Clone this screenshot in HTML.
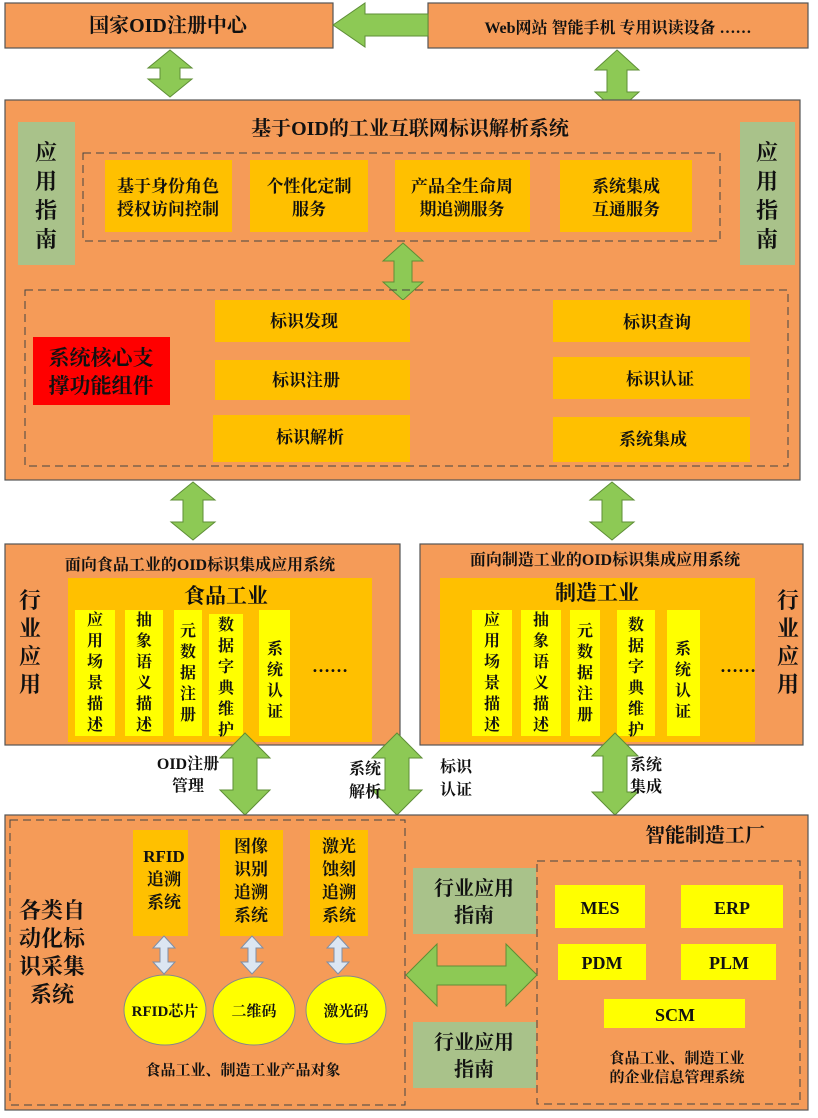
<!DOCTYPE html>
<html><head><meta charset="utf-8"><style>
html,body{margin:0;padding:0;background:#fff;}
svg text{font-family:"Liberation Serif","Noto Serif CJK SC",serif;font-weight:bold;fill:#111;}
</style></head><body>
<svg width="818" height="1113" viewBox="0 0 818 1113" xmlns="http://www.w3.org/2000/svg">
<defs><style>.o{fill:#F59B58;stroke:#555;stroke-width:1.2}.g{fill:#8DC955;stroke:#5E8E36;stroke-width:1}.y{fill:#FFC000}.ye{fill:#FFFF00}.pg{fill:#A9C28A}.d{fill:none;stroke:#444;stroke-width:1;stroke-dasharray:8 5}</style></defs>
<!-- top -->
<rect class="o" x="5" y="3" width="328" height="45"/>
<text x="168" y="32" font-size="20" text-anchor="middle">国家OID注册中心</text>
<rect class="o" x="428" y="3" width="380" height="45"/>
<text x="618" y="33" font-size="16" text-anchor="middle">Web网站  智能手机  专用识读设备  ……</text>
<polygon class="g" points="333,25 365,3 365,14 428,14 428,36 365,36 365,47"/>
<polygon class="g" points="170,50 192,68 180,68 180,79 192,79 170,97 148,79 160,79 160,68 148,68"/>
<polygon class="g" points="617,50 639,70 627,70 627,92 639,92 617,112 595,92 607,92 607,70 595,70"/>
<!-- big panel -->
<rect class="o" x="5" y="100" width="795" height="380"/>
<text x="410" y="135" font-size="20" text-anchor="middle">基于OID的工业互联网标识解析系统</text>
<rect class="pg" x="18" y="122" width="57" height="143"/>
<text x="46" y="160" font-size="22" text-anchor="middle">应</text><text x="46" y="189" font-size="22" text-anchor="middle">用</text><text x="46" y="218" font-size="22" text-anchor="middle">指</text><text x="46" y="247" font-size="22" text-anchor="middle">南</text>
<rect class="pg" x="740" y="122" width="55" height="143"/>
<text x="767" y="160" font-size="22" text-anchor="middle">应</text><text x="767" y="189" font-size="22" text-anchor="middle">用</text><text x="767" y="218" font-size="22" text-anchor="middle">指</text><text x="767" y="247" font-size="22" text-anchor="middle">南</text>
<rect class="d" x="83" y="153" width="637" height="88"/>
<rect class="y" x="105" y="160" width="127" height="72"/><text x="168" y="192" font-size="17" text-anchor="middle">基于身份角色</text><text x="168" y="215" font-size="17" text-anchor="middle">授权访问控制</text>
<rect class="y" x="250" y="160" width="118" height="72"/><text x="309" y="192" font-size="17" text-anchor="middle">个性化定制</text><text x="309" y="215" font-size="17" text-anchor="middle">服务</text>
<rect class="y" x="395" y="160" width="135" height="72"/><text x="462" y="192" font-size="17" text-anchor="middle">产品全生命周</text><text x="462" y="215" font-size="17" text-anchor="middle">期追溯服务</text>
<rect class="y" x="560" y="160" width="132" height="72"/><text x="626" y="192" font-size="17" text-anchor="middle">系统集成</text><text x="626" y="215" font-size="17" text-anchor="middle">互通服务</text>
<polygon class="g" points="403,243 423,261 412,261 412,282 423,282 403,300 383,282 394,282 394,261 383,261"/>
<rect class="d" x="25" y="290" width="763" height="176"/>
<rect x="33" y="337" width="137" height="68" fill="#FF0000"/>
<text x="101" y="365" font-size="21" text-anchor="middle">系统核心支</text><text x="101" y="393" font-size="21" text-anchor="middle">撑功能组件</text>
<rect class="y" x="215" y="300" width="195" height="42"/><text x="304" y="327" font-size="17" text-anchor="middle">标识发现</text>
<rect class="y" x="215" y="360" width="195" height="40"/><text x="306" y="386" font-size="17" text-anchor="middle">标识注册</text>
<rect class="y" x="213" y="415" width="197" height="47"/><text x="310" y="443" font-size="17" text-anchor="middle">标识解析</text>
<rect class="y" x="553" y="300" width="197" height="42"/><text x="657" y="328" font-size="17" text-anchor="middle">标识查询</text>
<rect class="y" x="553" y="357" width="197" height="42"/><text x="660" y="385" font-size="17" text-anchor="middle">标识认证</text>
<rect class="y" x="553" y="417" width="197" height="45"/><text x="653" y="445" font-size="17" text-anchor="middle">系统集成</text>
<polygon class="g" points="193,482 215,500 203,500 203,522 215,522 193,540 171,522 183,522 183,500 171,500"/>
<polygon class="g" points="612,482 634,500 622,500 622,522 634,522 612,540 590,522 602,522 602,500 590,500"/>
<!-- industry panels -->
<rect class="o" x="5" y="544" width="395" height="201"/>
<text x="200" y="570" font-size="16" text-anchor="middle">面向食品工业的OID标识集成应用系统</text>
<text x="30" y="608" font-size="22" text-anchor="middle">行</text><text x="30" y="636" font-size="22" text-anchor="middle">业</text><text x="30" y="664" font-size="22" text-anchor="middle">应</text><text x="30" y="692" font-size="22" text-anchor="middle">用</text>
<rect class="y" x="68" y="578" width="304" height="164"/>
<text x="226" y="603" font-size="21" text-anchor="middle">食品工业</text>
<rect class="ye" x="75" y="610" width="40" height="126"/>
<rect class="ye" x="125" y="610" width="38" height="126"/>
<rect class="ye" x="174" y="610" width="28" height="126"/>
<rect class="ye" x="209" y="614" width="34" height="122"/>
<rect class="ye" x="259" y="610" width="31" height="126"/>
<g font-size="16" text-anchor="middle">
<text x="95" y="625">应</text><text x="95" y="646">用</text><text x="95" y="667">场</text><text x="95" y="688">景</text><text x="95" y="709">描</text><text x="95" y="730">述</text>
<text x="144" y="625">抽</text><text x="144" y="646">象</text><text x="144" y="667">语</text><text x="144" y="688">义</text><text x="144" y="709">描</text><text x="144" y="730">述</text>
<text x="188" y="636">元</text><text x="188" y="657">数</text><text x="188" y="678">据</text><text x="188" y="699">注</text><text x="188" y="720">册</text>
<text x="226" y="630">数</text><text x="226" y="651">据</text><text x="226" y="672">字</text><text x="226" y="693">典</text><text x="226" y="714">维</text><text x="226" y="735">护</text>
<text x="275" y="654">系</text><text x="275" y="675">统</text><text x="275" y="696">认</text><text x="275" y="717">证</text>
</g>
<text x="330" y="672" font-size="18" text-anchor="middle">……</text>
<rect class="o" x="420" y="544" width="383" height="201"/>
<text x="605" y="565" font-size="16" text-anchor="middle">面向制造工业的OID标识集成应用系统</text>
<text x="788" y="608" font-size="22" text-anchor="middle">行</text><text x="788" y="636" font-size="22" text-anchor="middle">业</text><text x="788" y="664" font-size="22" text-anchor="middle">应</text><text x="788" y="692" font-size="22" text-anchor="middle">用</text>
<rect class="y" x="440" y="578" width="315" height="164"/>
<text x="597" y="600" font-size="21" text-anchor="middle">制造工业</text>
<rect class="ye" x="472" y="610" width="40" height="126"/>
<rect class="ye" x="521" y="610" width="40" height="126"/>
<rect class="ye" x="570" y="610" width="30" height="126"/>
<rect class="ye" x="617" y="610" width="38" height="126"/>
<rect class="ye" x="667" y="610" width="33" height="126"/>
<g font-size="16" text-anchor="middle">
<text x="492" y="625">应</text><text x="492" y="646">用</text><text x="492" y="667">场</text><text x="492" y="688">景</text><text x="492" y="709">描</text><text x="492" y="730">述</text>
<text x="541" y="625">抽</text><text x="541" y="646">象</text><text x="541" y="667">语</text><text x="541" y="688">义</text><text x="541" y="709">描</text><text x="541" y="730">述</text>
<text x="585" y="636">元</text><text x="585" y="657">数</text><text x="585" y="678">据</text><text x="585" y="699">注</text><text x="585" y="720">册</text>
<text x="636" y="630">数</text><text x="636" y="651">据</text><text x="636" y="672">字</text><text x="636" y="693">典</text><text x="636" y="714">维</text><text x="636" y="735">护</text>
<text x="683" y="654">系</text><text x="683" y="675">统</text><text x="683" y="696">认</text><text x="683" y="717">证</text>
</g>
<text x="738" y="672" font-size="18" text-anchor="middle">……</text>
<!-- middle arrows -->
<polygon class="g" points="245,733 270,758 257,758 257,790 270,790 245,815 220,790 233,790 233,758 220,758"/>
<polygon class="g" points="397,733 422,758 409,758 409,790 422,790 397,815 372,790 385,790 385,758 372,758"/>
<polygon class="g" points="615,733 638,756 627,756 627,792 638,792 615,815 592,792 603,792 603,756 592,756"/>
<g font-size="16" text-anchor="middle">
<text x="188" y="769">OID注册</text><text x="188" y="791">管理</text>
<text x="365" y="774">系统</text><text x="365" y="797">解析</text>
<text x="456" y="772">标识</text><text x="456" y="795">认证</text>
<text x="646" y="770">系统</text><text x="646" y="792">集成</text>
</g>
<!-- bottom -->
<rect class="o" x="5" y="815" width="803" height="295"/>
<rect class="d" x="10" y="820" width="395" height="285"/>
<rect class="d" x="537" y="861" width="263" height="243"/>
<text x="705" y="842" font-size="20" text-anchor="middle">智能制造工厂</text>
<g font-size="22" text-anchor="middle"><text x="52" y="918">各类自</text><text x="52" y="946">动化标</text><text x="52" y="974">识采集</text><text x="52" y="1002">系统</text></g>
<rect class="y" x="133" y="830" width="55" height="106"/>
<rect class="y" x="220" y="830" width="63" height="106"/>
<rect class="y" x="310" y="830" width="58" height="106"/>
<g font-size="17" text-anchor="middle">
<text x="164" y="862">RFID</text><text x="164" y="885">追溯</text><text x="164" y="908">系统</text>
<text x="251" y="852">图像</text><text x="251" y="875">识别</text><text x="251" y="898">追溯</text><text x="251" y="921">系统</text>
<text x="339" y="852">激光</text><text x="339" y="875">蚀刻</text><text x="339" y="898">追溯</text><text x="339" y="921">系统</text>
</g>
<g fill="#DCE6F2" stroke="#7F8FA6" stroke-width="1">
<polygon points="164,936 175,948 168,948 168,962 175,962 164,974 153,962 160,962 160,948 153,948"/>
<polygon points="252,936 263,948 256,948 256,962 263,962 252,974 241,962 248,962 248,948 241,948"/>
<polygon points="338,936 349,948 342,948 342,962 349,962 338,974 327,962 334,962 334,948 327,948"/>
</g>
<g fill="#FFFF00" stroke="#888" stroke-width="1">
<ellipse cx="165" cy="1010" rx="41" ry="35"/><ellipse cx="254" cy="1011" rx="41" ry="34"/><ellipse cx="346" cy="1010" rx="40" ry="34"/>
</g>
<g font-size="15" text-anchor="middle"><text x="165" y="1016">RFID芯片</text><text x="254" y="1016">二维码</text><text x="346" y="1016">激光码</text></g>
<text x="243" y="1075" font-size="15" text-anchor="middle">食品工业、制造工业产品对象</text>
<rect class="pg" x="413" y="868" width="123" height="66"/>
<text x="474" y="895" font-size="20" text-anchor="middle">行业应用</text><text x="474" y="922" font-size="20" text-anchor="middle">指南</text>
<rect class="pg" x="413" y="1022" width="123" height="66"/>
<text x="474" y="1049" font-size="20" text-anchor="middle">行业应用</text><text x="474" y="1076" font-size="20" text-anchor="middle">指南</text>
<polygon class="g" points="406,975 437,944 437,966 506,966 506,944 537,975 506,1006 506,985 437,985 437,1006"/>
<rect class="ye" x="555" y="885" width="90" height="43"/><text x="600" y="914" font-size="18" text-anchor="middle">MES</text>
<rect class="ye" x="681" y="885" width="102" height="43"/><text x="732" y="914" font-size="18" text-anchor="middle">ERP</text>
<rect class="ye" x="558" y="944" width="88" height="36"/><text x="602" y="969" font-size="18" text-anchor="middle">PDM</text>
<rect class="ye" x="681" y="944" width="95" height="36"/><text x="729" y="969" font-size="18" text-anchor="middle">PLM</text>
<rect class="ye" x="604" y="999" width="141" height="29"/><text x="675" y="1021" font-size="18" text-anchor="middle">SCM</text>
<text x="677" y="1063" font-size="15" text-anchor="middle">食品工业、制造工业</text>
<text x="677" y="1082" font-size="15" text-anchor="middle">的企业信息管理系统</text>
</svg>
</body></html>
